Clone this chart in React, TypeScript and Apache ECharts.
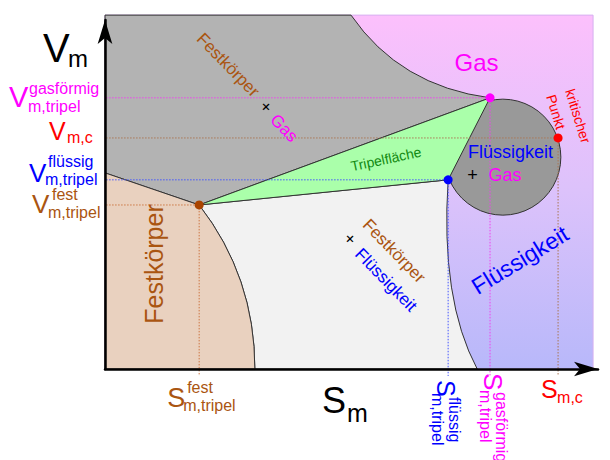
import React, { useEffect, useRef } from "react";
import * as echarts from "echarts";

const FONT = "'Liberation Sans', Arial, Helvetica, sans-serif";

// ---------- data: S_m on x, V_m on y (arbitrary units 0..10) ----------
const plotFrame = [9.9, 10.14];
const solidTriple = [1.91, 4.7];
const liquidTriple = [6.96, 5.42];
const gasTriple = [7.81, 7.77];
const criticalPoint = [9.19, 6.62];
const twoPhaseCircleCenter = [8.07, 6.07];
const sublimationStart = [0, 5.62];
// quadratic boundary curves: [start, control, end]
const gasCurve = [[4.99, 10.14], [5.98, 8.11], [7.81, 7.77]];
const meltingCurve = [[1.91, 4.7], [3.04, 2.64], [3.04, 0]];
const liquidCurve = [[6.96, 5.42], [6.8, 1.98], [7.55, 0]];

const yTickValues = [7.77, 6.62, 5.42, 4.7];
const yTickMain = ["V", "V", "V", "V"];
const yTickSup = ["gasförmig", "", "flüssig", "fest"];
const yTickSub = ["m,tripel", "m,c", "m,tripel", "m,tripel"];

const xTickValues = [1.91, 6.96, 7.81, 9.19];
const xTickMain = ["S", "S", "S", "S"];
const xTickSup = ["fest", "flüssig", "gasförmig", ""];
const xTickSub = ["m,tripel", "m,tripel", "m,tripel", "m,c"];

const guideStartX = -0.16;
const guideEndY = -0.2;

// ---------- styles ----------
const BROWN = "#aa5511";
const BLUE = "#0000ff";
const MAG = "#ff00ff";
const RED = "#ff0000";
const GREEN = "#128a12";
const EDGE = "#333333";

const yTickColors = [MAG, RED, BLUE, BROWN];
const xTickColors = [BROWN, BLUE, MAG, RED];
const yTickLayout = [
  { main: [-96, -1, 29], sup: [-76, -9.5], sub: [-77, 9] },
  { main: [-56, -6.7, 25], sup: [0, 0], sub: [-38, 0] },
  { main: [-76, -6.8, 26], sup: [-57, -18.5], sub: [-60, 0] },
  { main: [-73, -1, 26], sup: [-53, -10], sub: [-57, 7.5] },
];
const xTickLayout = [
  { rot: 0, main: [-32, 28.6, 27], sup: [-12, 18.5], sub: [-16, 36] },
  { rot: -Math.PI / 2, main: [-2, 11, 25], sup: [6.5, 28], sub: [-10.5, 24] },
  { rot: -Math.PI / 2, main: [3, 4, 26], sup: [11, 23], sub: [-5, 21] },
  { rot: 0, main: [-17, 20.3, 25], sup: [0, 0], sub: [-1, 28] },
];

const guideColors = ["#ee44ee", "#aa7755", "#4455ff", "#cc7744"];
const guidePoints = [gasTriple, criticalPoint, liquidTriple, solidTriple];
const markerPoints = [solidTriple, liquidTriple, gasTriple, criticalPoint];
const markerColors = ["#aa4400", BLUE, MAG, RED];

const regionLabels = [
  { text: "Gas", x: 476.5, y: 62.5, size: 24, color: MAG, rot: 0 },
  { text: "Festkörper", x: 228, y: 65, size: 17, color: BROWN, rot: -0.8 },
  { text: "+", x: 266, y: 107, size: 17, color: "#000", rot: -0.8 },
  { text: "Gas", x: 284, y: 128, size: 17, color: MAG, rot: -0.8 },
  { text: "Festkörper", x: 394, y: 251, size: 17, color: BROWN, rot: -0.8 },
  { text: "+", x: 350, y: 239, size: 17, color: "#000", rot: -0.8 },
  { text: "Flüssigkeit", x: 386, y: 280, size: 17, color: BLUE, rot: -0.8 },
  { text: "Festkörper", x: 154, y: 264, size: 25, color: BROWN, rot: Math.PI / 2 },
  { text: "Tripelfläche", x: 386, y: 159, size: 14, color: GREEN, rot: 0.21 },
  { text: "Flüssigkeit", x: 510.5, y: 151.7, size: 18, color: BLUE, rot: 0 },
  { text: "+", x: 472.5, y: 174.8, size: 18, color: "#000", rot: 0 },
  { text: "Gas", x: 505, y: 174.8, size: 18, color: MAG, rot: 0 },
  { text: "Flüssigkeit", x: 520, y: 260, size: 23, color: BLUE, rot: 0.55 },
  { text: "kritischer", x: 578, y: 116, size: 14, color: RED, rot: -1.27 },
  { text: "Punkt", x: 556, y: 112, size: 14, color: RED, rot: -1.27 },
];

function txt(text: string, x: number, y: number, size: number, fill: string, rot = 0, align = "left") {
  return {
    type: "text",
    x,
    y,
    rotation: rot,
    silent: true,
    style: {
      text,
      fill,
      fontSize: size,
      fontFamily: FONT,
      align,
      textAlign: align,
      verticalAlign: "middle",
      textVerticalAlign: "middle",
    },
  };
}

type Cmd = [string, ...number[][]];

function buildPath(api: any, cmds: Cmd[]) {
  return cmds
    .map(([c, ...pts]) =>
      c + " " + pts.map((p) => api.coord(p).map((v: number) => v.toFixed(2)).join(" ")).join(" ")
    )
    .join(" ");
}

const phaseRegions: { cmds: Cmd[]; fill: string }[] = [
  {
    // Festkörper + Gas
    cmds: [
      ["M", [0, plotFrame[1]]],
      ["L", gasCurve[0]],
      ["Q", gasCurve[1], gasCurve[2]],
      ["L", solidTriple],
      ["L", sublimationStart],
      ["Z"],
    ],
    fill: "#b3b3b3",
  },
  {
    // Festkörper + Flüssigkeit
    cmds: [
      ["M", solidTriple],
      ["L", liquidTriple],
      ["Q", liquidCurve[1], liquidCurve[2]],
      ["L", meltingCurve[2]],
      ["Q", meltingCurve[1], meltingCurve[0]],
      ["Z"],
    ],
    fill: "#f2f2f2",
  },
  {
    // Festkörper
    cmds: [
      ["M", sublimationStart],
      ["L", solidTriple],
      ["Q", meltingCurve[1], meltingCurve[2]],
      ["L", [0, 0]],
      ["Z"],
    ],
    fill: "#e9d1bf",
  },
];

const tripleArea: Cmd[] = [["M", solidTriple], ["L", gasTriple], ["L", liquidTriple], ["Z"]];

function buildOption() {
  const grad = new echarts.graphic.LinearGradient(0, 0, 0, 1, [
    { offset: 0, color: "#fcc0fc" },
    { offset: 0.5, color: "#dcc2fb" },
    { offset: 1, color: "#b8b8fa" },
  ]);

  const guideSeries = guidePoints.map((p, i) => ({
    type: "line",
    data: [[guideStartX, p[1]], [p[0], p[1]], [p[0], guideEndY]],
    symbol: "none",
    clip: false,
    silent: true,
    z: 5,
    lineStyle: { color: guideColors[i], width: 1, type: [1.5, 1.5] },
  }));

  return {
    animation: false,
    grid: { left: 105, top: 20, right: 12, bottom: 91, containLabel: false },
    xAxis: {
      type: "value",
      min: 0,
      max: 10,
      z: 10,
      axisLine: {
        show: true,
        onZero: false,
        symbol: ["none", "arrow"],
        symbolSize: [11, 24],
        lineStyle: { color: "#000", width: 2.5 },
      },
      axisTick: { show: false },
      axisLabel: { show: false },
      splitLine: { show: false },
    },
    yAxis: {
      type: "value",
      min: 0,
      max: 10,
      z: 10,
      axisLine: {
        show: true,
        onZero: false,
        symbol: ["none", "arrow"],
        symbolSize: [11, 24],
        lineStyle: { color: "#000", width: 2.5 },
      },
      axisTick: { show: false },
      axisLabel: { show: false },
      splitLine: { show: false },
    },
    series: [
      {
        type: "custom",
        z: 1,
        silent: true,
        data: [[0, 0]],
        renderItem: (params: any, api: any) => {
          const p0 = api.coord([0, plotFrame[1]]);
          const p1 = api.coord([plotFrame[0], 0]);
          return {
            type: "rect",
            shape: { x: p0[0], y: p0[1], width: p1[0] - p0[0], height: p1[1] - p0[1] },
            style: { fill: grad, stroke: "#d6b0f0", lineWidth: 1 },
          };
        },
      },
      {
        type: "custom",
        z: 2,
        silent: true,
        data: phaseRegions.map((_, i) => [i, 0]),
        renderItem: (params: any, api: any) => {
          const r = phaseRegions[params.dataIndex];
          return {
            type: "path",
            shape: { pathData: buildPath(api, r.cmds) },
            style: { fill: r.fill, stroke: EDGE, lineWidth: 1 },
          };
        },
      },
      {
        type: "scatter",
        z: 3,
        silent: true,
        data: [twoPhaseCircleCenter],
        symbol: "circle",
        symbolSize: 116,
        itemStyle: { color: "#999999", borderColor: EDGE, borderWidth: 1, opacity: 1 },
        emphasis: { disabled: true },
      },
      {
        type: "custom",
        z: 4,
        silent: true,
        data: [[0, 0]],
        renderItem: (params: any, api: any) => ({
          type: "path",
          shape: { pathData: buildPath(api, tripleArea) },
          style: { fill: "#aaffaa", stroke: EDGE, lineWidth: 1 },
        }),
      },
      ...guideSeries,
      {
        type: "scatter",
        z: 6,
        silent: true,
        symbolSize: 9,
        data: markerPoints.map((p, i) => ({ value: p, itemStyle: { color: markerColors[i], opacity: 1 } })),
        emphasis: { disabled: true },
      },
      {
        type: "custom",
        z: 7,
        silent: true,
        data: yTickValues.map((v) => [0, v]),
        renderItem: (params: any, api: any) => {
          const i = params.dataIndex;
          const [px, py] = api.coord([0, yTickValues[i]]);
          const L = yTickLayout[i];
          const col = yTickColors[i];
          const children: any[] = [txt(yTickMain[i], px + L.main[0], py + L.main[1], L.main[2], col)];
          if (yTickSup[i]) children.push(txt(yTickSup[i], px + L.sup[0], py + L.sup[1], 16, col));
          children.push(txt(yTickSub[i], px + L.sub[0], py + L.sub[1], 16, col));
          return { type: "group", children };
        },
      },
      {
        type: "custom",
        z: 7,
        silent: true,
        data: xTickValues.map((v) => [v, 0]),
        renderItem: (params: any, api: any) => {
          const i = params.dataIndex;
          const [px, py] = api.coord([xTickValues[i], 0]);
          const L = xTickLayout[i];
          const col = xTickColors[i];
          const children: any[] = [txt(xTickMain[i], px + L.main[0], py + L.main[1], L.main[2], col, L.rot)];
          if (xTickSup[i]) children.push(txt(xTickSup[i], px + L.sup[0], py + L.sup[1], 16, col, L.rot));
          children.push(txt(xTickSub[i], px + L.sub[0], py + L.sub[1], 16, col, L.rot));
          return { type: "group", children };
        },
      },
    ],
    graphic: [
      txt("V", 43, 48, 40, "#000"),
      txt("m", 68, 58.7, 24, "#000"),
      txt("S", 322, 400.5, 36, "#000"),
      txt("m", 347, 413, 25, "#000"),
      ...regionLabels.map((l) => txt(l.text, l.x, l.y, l.size, l.color, l.rot, "center")),
    ].map((g: any) => ({ ...g, z: 100 })),
  };
}

export default function App() {
  const ref = useRef<HTMLDivElement>(null);
  useEffect(() => {
    if (!ref.current) return;
    const chart = echarts.init(ref.current, null, { renderer: "svg" });
    chart.setOption(buildOption() as any);
    return () => chart.dispose();
  }, []);
  return (
    <div
      ref={ref}
      style={{ position: "absolute", left: 0, top: 0, width: 610, height: 460, background: "#ffffff" }}
    />
  );
}
